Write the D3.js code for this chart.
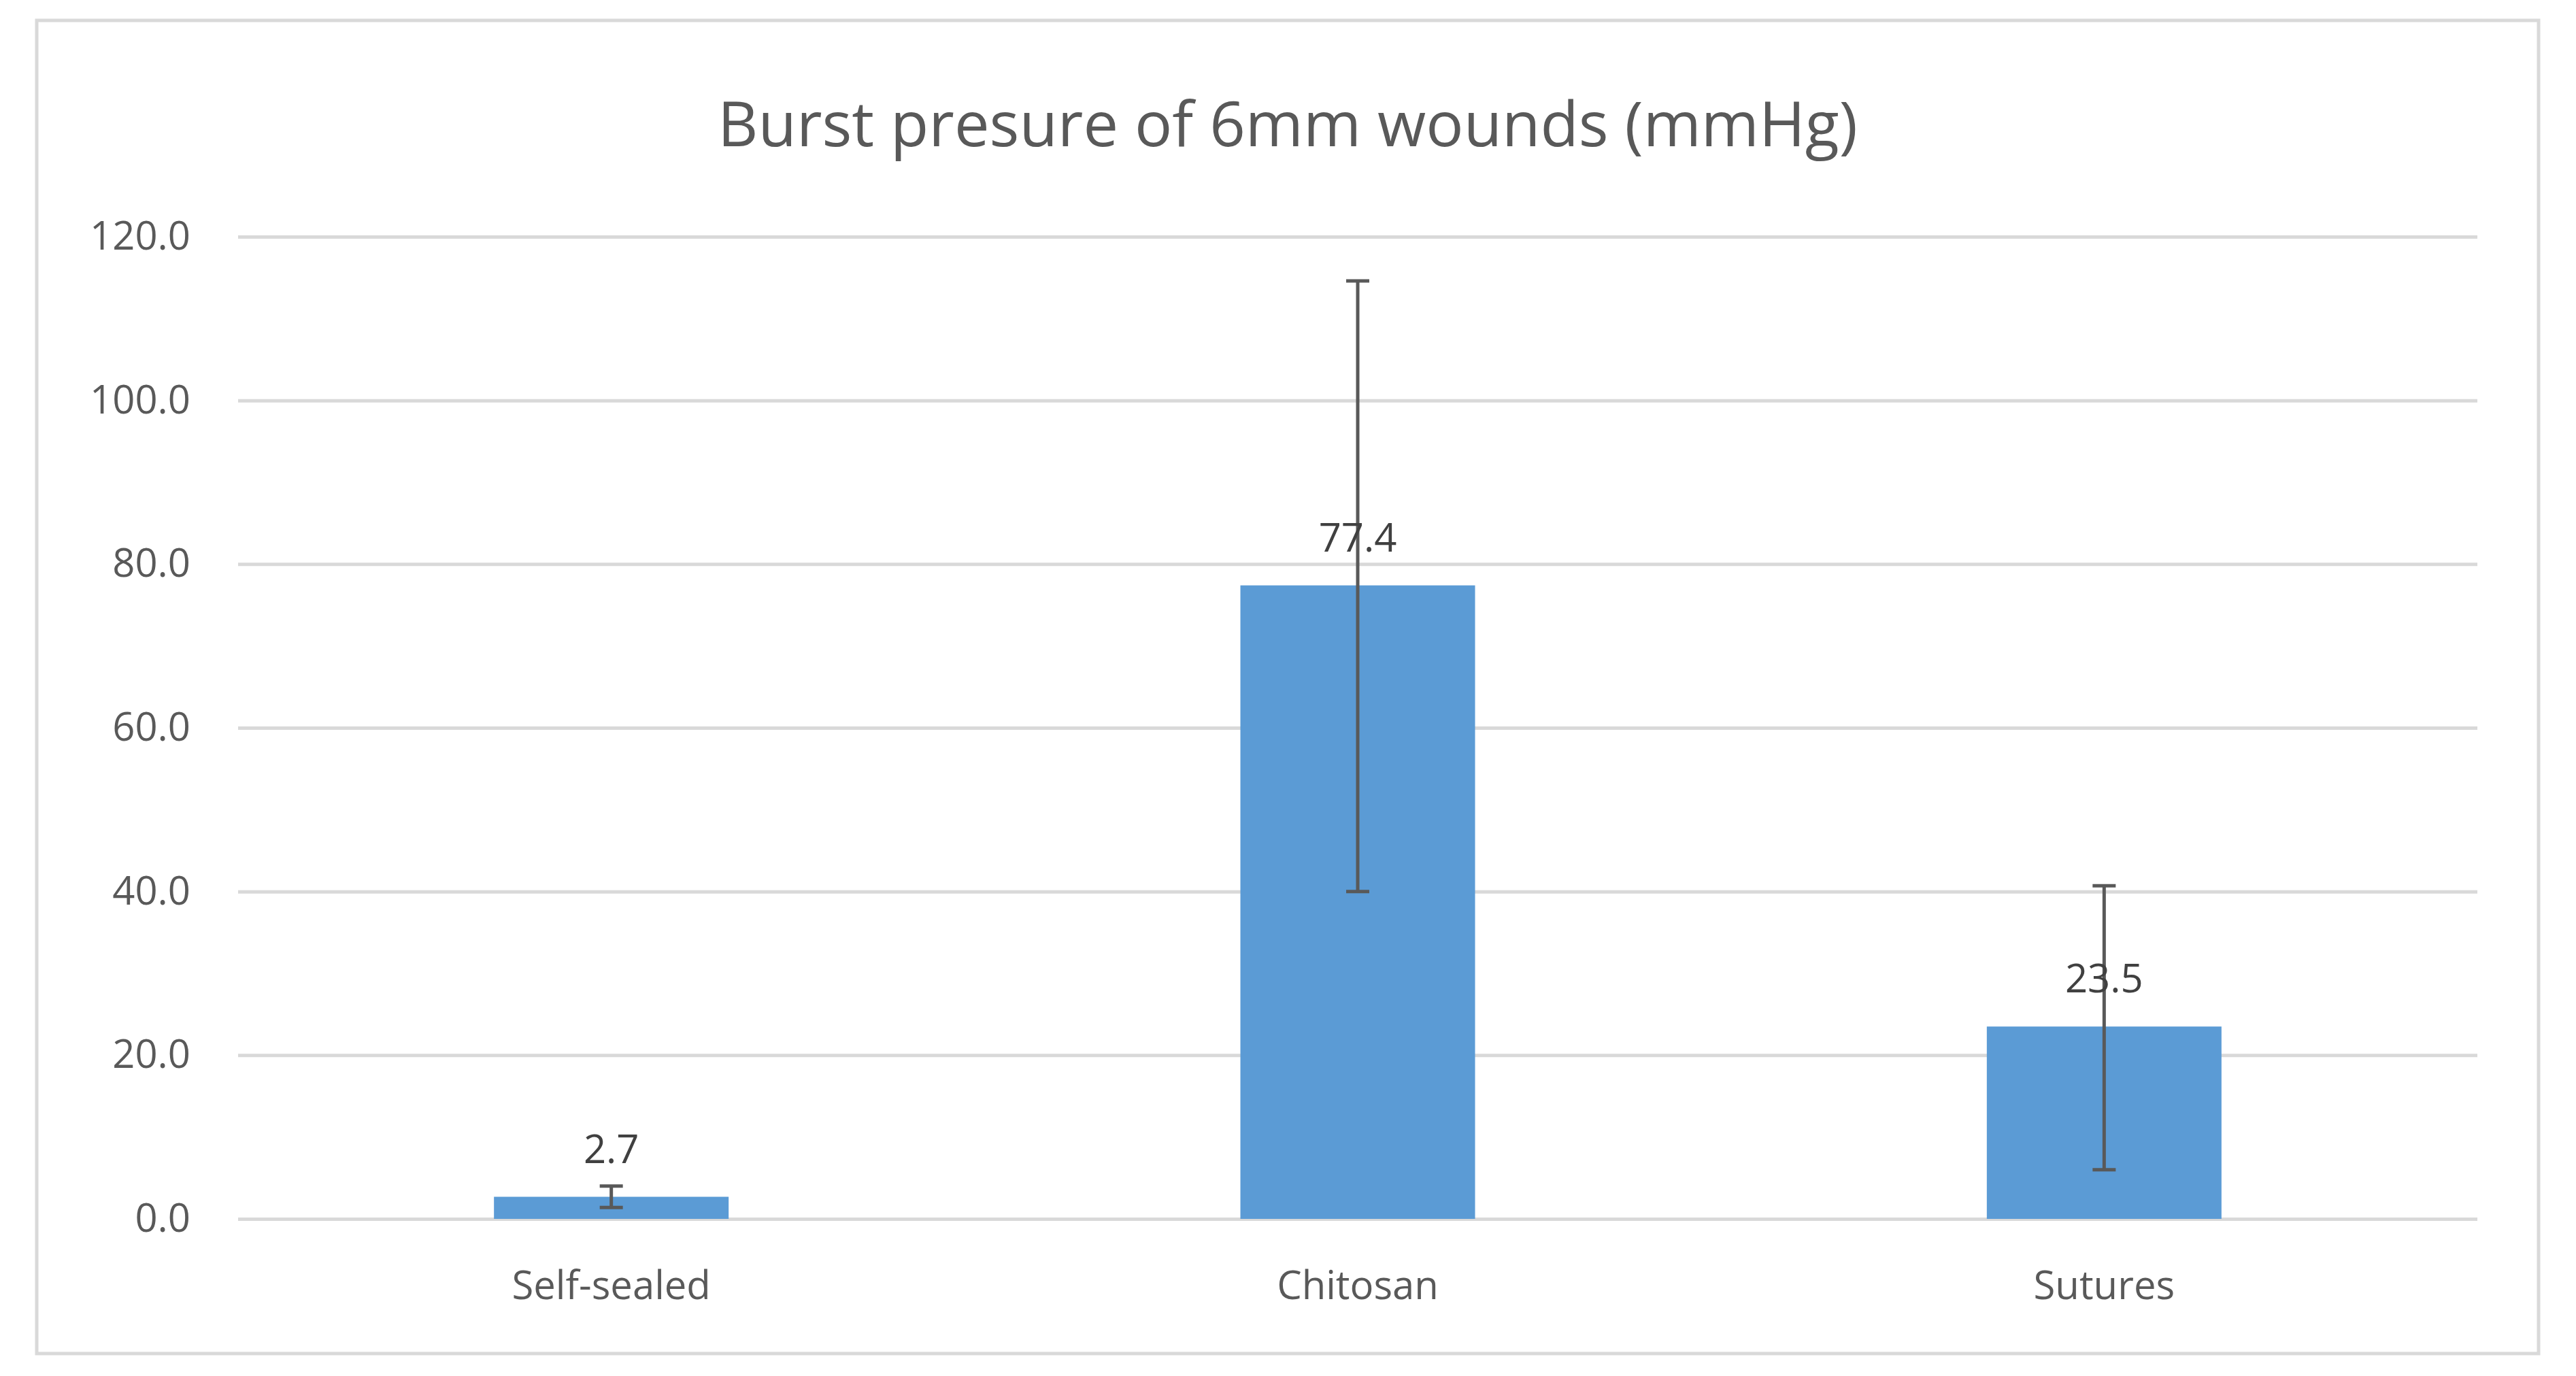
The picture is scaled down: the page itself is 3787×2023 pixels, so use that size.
<!DOCTYPE html>
<html>
<head>
<meta charset="utf-8">
<script src="https://cdn.jsdelivr.net/npm/d3@7"></script>
<style>
  body { margin: 0; background: #fff; }
  text { font-family: "Open Sans", sans-serif; }
</style>
</head>
<body>
<script>
var categories = ["Self-sealed", "Chitosan", "Sutures"];
var values = [2.7, 77.4, 23.5];
var errLow = [1.4, 40.0, 6.0];
var errHigh = [4.0, 114.6, 40.7];
var yTicks = [0, 20, 40, 60, 80, 100, 120];

var width = 3787;
var height = 2023;

var svg = d3.select("body").append("svg")
            .attr("width", width)
            .attr("height", height);

// chart border
svg.append("rect")
   .attr("x", 54).attr("y", 30)
   .attr("width", 3678).attr("height", 1960)
   .attr("fill", "#fff")
   .attr("stroke", "#d9d9d9")
   .attr("stroke-width", 5);

svg.append("text")
   .attr("x", (54 + 3732) / 2)
   .attr("y", 215)
   .attr("text-anchor", "middle")
   .attr("font-size", 92)
   .attr("fill", "#595959")
   .text("Burst presure of 6mm wounds (mmHg)");

var xScale = d3.scaleBand()
               .domain(categories)
               .range([350, 3642]);

var yScale = d3.scaleLinear()
               .domain([0, 120])
               .range([1792, 348]);

var yAxis = d3.axisLeft(yScale)
              .tickValues(yTicks)
              .tickSize(-(3642 - 350))
              .tickPadding(70)
              .tickFormat(d3.format(".1f"));

var gy = svg.append("g")
            .attr("transform", "translate(350,0)")
            .call(yAxis);
gy.select(".domain").remove();
gy.selectAll("line").attr("stroke", "#d9d9d9").attr("stroke-width", 5);
gy.selectAll("text").attr("font-size", 58).attr("fill", "#595959");

var barW = 345;

svg.selectAll("rect.bar")
   .data(values)
   .enter()
   .append("rect")
   .attr("class", "bar")
   .attr("x", function(d, i){ return xScale(categories[i]) + xScale.bandwidth() / 2 - barW / 2; })
   .attr("y", function(d){ return yScale(d); })
   .attr("width", barW)
   .attr("height", function(d){ return yScale(0) - yScale(d); })
   .attr("fill", "#5b9bd5");

// error bars
var eb = svg.selectAll("g.err")
            .data(values)
            .enter()
            .append("g")
            .attr("class", "err")
            .attr("stroke", "#595959")
            .attr("stroke-width", 5);

eb.append("line")
  .attr("x1", function(d, i){ return xScale(categories[i]) + xScale.bandwidth() / 2; })
  .attr("x2", function(d, i){ return xScale(categories[i]) + xScale.bandwidth() / 2; })
  .attr("y1", function(d, i){ return yScale(errLow[i]); })
  .attr("y2", function(d, i){ return yScale(errHigh[i]); });

[errLow, errHigh].forEach(function(arr){
  eb.append("line")
    .attr("x1", function(d, i){ return xScale(categories[i]) + xScale.bandwidth() / 2 - 17; })
    .attr("x2", function(d, i){ return xScale(categories[i]) + xScale.bandwidth() / 2 + 17; })
    .attr("y1", function(d, i){ return yScale(arr[i]); })
    .attr("y2", function(d, i){ return yScale(arr[i]); });
});

svg.selectAll("text.lbl")
   .data(values)
   .enter()
   .append("text")
   .attr("class", "lbl")
   .attr("x", function(d, i){ return xScale(categories[i]) + xScale.bandwidth() / 2; })
   .attr("y", function(d){ return yScale(d) - 50; })
   .attr("text-anchor", "middle")
   .attr("font-size", 58)
   .attr("fill", "#404040")
   .text(function(d){ return d3.format(".1f")(d); });

svg.selectAll("text.cat")
   .data(categories)
   .enter()
   .append("text")
   .attr("class", "cat")
   .attr("x", function(d){ return xScale(d) + xScale.bandwidth() / 2; })
   .attr("y", 1910)
   .attr("text-anchor", "middle")
   .attr("font-size", 58)
   .attr("fill", "#595959")
   .text(function(d){ return d; });
</script>
</body>
</html>
